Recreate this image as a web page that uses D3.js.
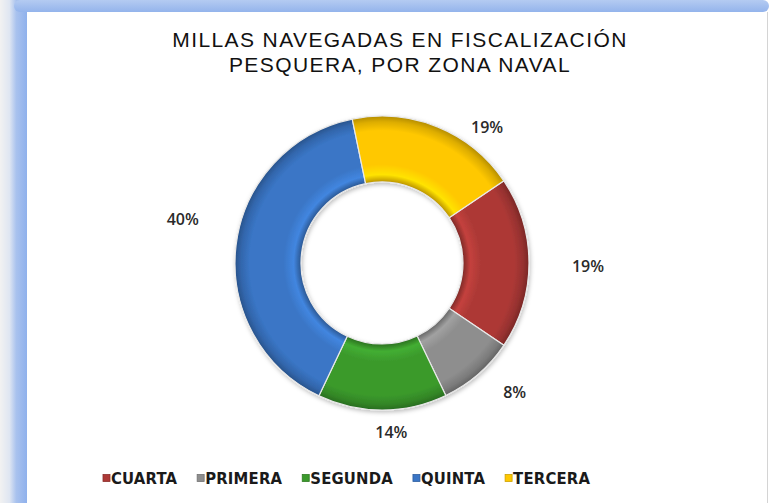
<!DOCTYPE html>
<html>
<head>
<meta charset="utf-8">
<style>
  body { margin: 0; background: #fff; }
  svg { display: block; }
  .title { font-family: "Liberation Sans", Arial, sans-serif; font-size: 21px; fill: #111; letter-spacing: 1.4px; }
  .pct { font-family: "Open Sans", "Liberation Sans", sans-serif; font-size: 16px; font-weight: 600; fill: #2a2a2a; }
  .legend text { font-family: "DejaVu Sans Condensed", "Liberation Sans", sans-serif; font-size: 16.5px; font-weight: bold; fill: #1a1a1a; letter-spacing: 0.2px; }
</style>
</head>
<body>
<div id="chart"></div>
<script src="https://d3js.org/d3.v7.min.js"></script>
<script>
// data
const zones  = ["CUARTA", "PRIMERA", "SEGUNDA", "QUINTA", "TERCERA"];
const shares = [18.9, 8.4, 14.2, 39.7, 18.8];
const colors = ["#ad3936", "#8e8e8e", "#3b9a2c", "#3a76c6", "#ffc800"];
const titleLines = ["MILLAS NAVEGADAS EN FISCALIZACIÓN", "PESQUERA, POR ZONA NAVAL"];

const width = 769, height = 503;
const cx = 382, cy = 263, outerR = 147, innerR = 81;

// label tweaks, like excel's best fit
const labelPlace = {
  CUARTA:  { r: 206, shift: 1 },
  PRIMERA: { r: 185, shift: -5 },
  SEGUNDA: { r: 169, shift: -3 },
  QUINTA:  { r: 204, shift: 5.5 },
  TERCERA: { r: 172, shift: 15.5 }
};

const svg = d3.select('#chart').append('svg')
  .attr('width', width)
  .attr('height', height);

const defs = svg.append('defs');

// frame gradients
const sideGrad = defs.append('linearGradient').attr('id', 'side')
  .attr('x1', 0).attr('x2', 1).attr('y1', 0).attr('y2', 0);
sideGrad.append('stop').attr('offset', 0).attr('stop-color', '#f2f2f2');
sideGrad.append('stop').attr('offset', 0.35).attr('stop-color', '#dfe6f2');
sideGrad.append('stop').attr('offset', 0.6).attr('stop-color', '#a9c2ee');
sideGrad.append('stop').attr('offset', 1).attr('stop-color', '#8fb1ec');

const topGrad = defs.append('linearGradient').attr('id', 'top')
  .attr('x1', 0).attr('x2', 0).attr('y1', 0).attr('y2', 1);
topGrad.append('stop').attr('offset', 0).attr('stop-color', '#b4cbf2');
topGrad.append('stop').attr('offset', 1).attr('stop-color', '#94b4ec');

svg.append('rect').attr('width', width).attr('height', height).attr('fill', '#fff');
svg.append('rect').attr('x', 0).attr('y', 0).attr('width', 27).attr('height', height).attr('fill', 'url(#side)');
svg.append('rect').attr('x', 14).attr('y', 0).attr('width', width - 14).attr('height', 12)
  .attr('rx', 6).attr('fill', 'url(#top)');
svg.append('rect').attr('x', 27).attr('y', 12).attr('width', 740).attr('height', height - 12)
  .attr('fill', '#fff');
svg.append('line').attr('x1', 767.5).attr('x2', 767.5).attr('y1', 12).attr('y2', height)
  .attr('stroke', '#d4d4d4');

// title
svg.append('g').selectAll('text')
  .data(titleLines)
  .join('text')
  .attr('class', 'title')
  .attr('x', 400)
  .attr('y', (d, i) => 47 + i * 24.5)
  .attr('text-anchor', 'middle')
  .text(d => d);

// slice gradients to fake the bevel
const ringStart = innerR / outerR;
colors.forEach((c, i) => {
  const base = d3.color(c);
  const g = defs.append('radialGradient')
    .attr('id', 'slice' + i)
    .attr('gradientUnits', 'userSpaceOnUse')
    .attr('cx', 0).attr('cy', 0).attr('r', outerR);
  g.append('stop').attr('offset', ringStart).attr('stop-color', base.darker(0.9));
  g.append('stop').attr('offset', ringStart + 0.05).attr('stop-color', base.brighter(0.35));
  g.append('stop').attr('offset', ringStart + 0.12).attr('stop-color', base);
  g.append('stop').attr('offset', 0.9).attr('stop-color', base);
  g.append('stop').attr('offset', 0.96).attr('stop-color', base.darker(0.4));
  g.append('stop').attr('offset', 1).attr('stop-color', base.darker(1));
});

const shadow = defs.append('filter').attr('id', 'shadow')
  .attr('x', '-20%').attr('y', '-20%').attr('width', '140%').attr('height', '140%');
shadow.append('feDropShadow').attr('dx', 1).attr('dy', 2).attr('stdDeviation', 2)
  .attr('flood-color', '#000').attr('flood-opacity', 0.25);

const table = zones.map((z, i) => ({ zone: z, share: shares[i], idx: i }));

const startA = 56 * Math.PI / 180;
const pie = d3.pie()
  .sort(null)
  .value(d => d.share)
  .startAngle(startA)
  .endAngle(startA + 2 * Math.PI);

const arc = d3.arc().innerRadius(innerR).outerRadius(outerR);
const arcs = pie(table);

const donut = svg.append('g')
  .attr('transform', `translate(${cx},${cy})`);

donut.append('g')
  .attr('filter', 'url(#shadow)')
  .selectAll('path')
  .data(arcs)
  .join('path')
  .attr('d', arc)
  .attr('fill', d => `url(#slice${d.data.idx})`)
  .attr('stroke', '#e8e8e8')
  .attr('stroke-width', 1.2);

// percentage labels
donut.append('g')
  .selectAll('text')
  .data(arcs)
  .join('text')
  .attr('class', 'pct')
  .attr('text-anchor', 'middle')
  .attr('dy', '0.36em')
  .attr('x', d => {
    const p = labelPlace[d.data.zone];
    const a = (d.startAngle + d.endAngle) / 2 + p.shift * Math.PI / 180;
    return p.r * Math.sin(a);
  })
  .attr('y', d => {
    const p = labelPlace[d.data.zone];
    const a = (d.startAngle + d.endAngle) / 2 + p.shift * Math.PI / 180;
    return -p.r * Math.cos(a);
  })
  .text(d => Math.round(d.data.share) + '%');

// legend
const legend = svg.append('g').attr('class', 'legend')
  .attr('transform', 'translate(103,478)');

let xpos = 0;
table.forEach(d => {
  const item = legend.append('g').attr('transform', `translate(${xpos},0)`);
  item.append('rect')
    .attr('x', 0).attr('y', -3.5)
    .attr('width', 7).attr('height', 7)
    .attr('fill', colors[d.idx])
    .attr('stroke', d3.color(colors[d.idx]).darker(0.6))
    .attr('stroke-width', 0.8);
  const t = item.append('text')
    .attr('x', 8)
    .attr('dy', '0.36em')
    .text(d.zone);
  xpos += 8 + t.node().getComputedTextLength() + 20;
});
</script>
</body>
</html>
